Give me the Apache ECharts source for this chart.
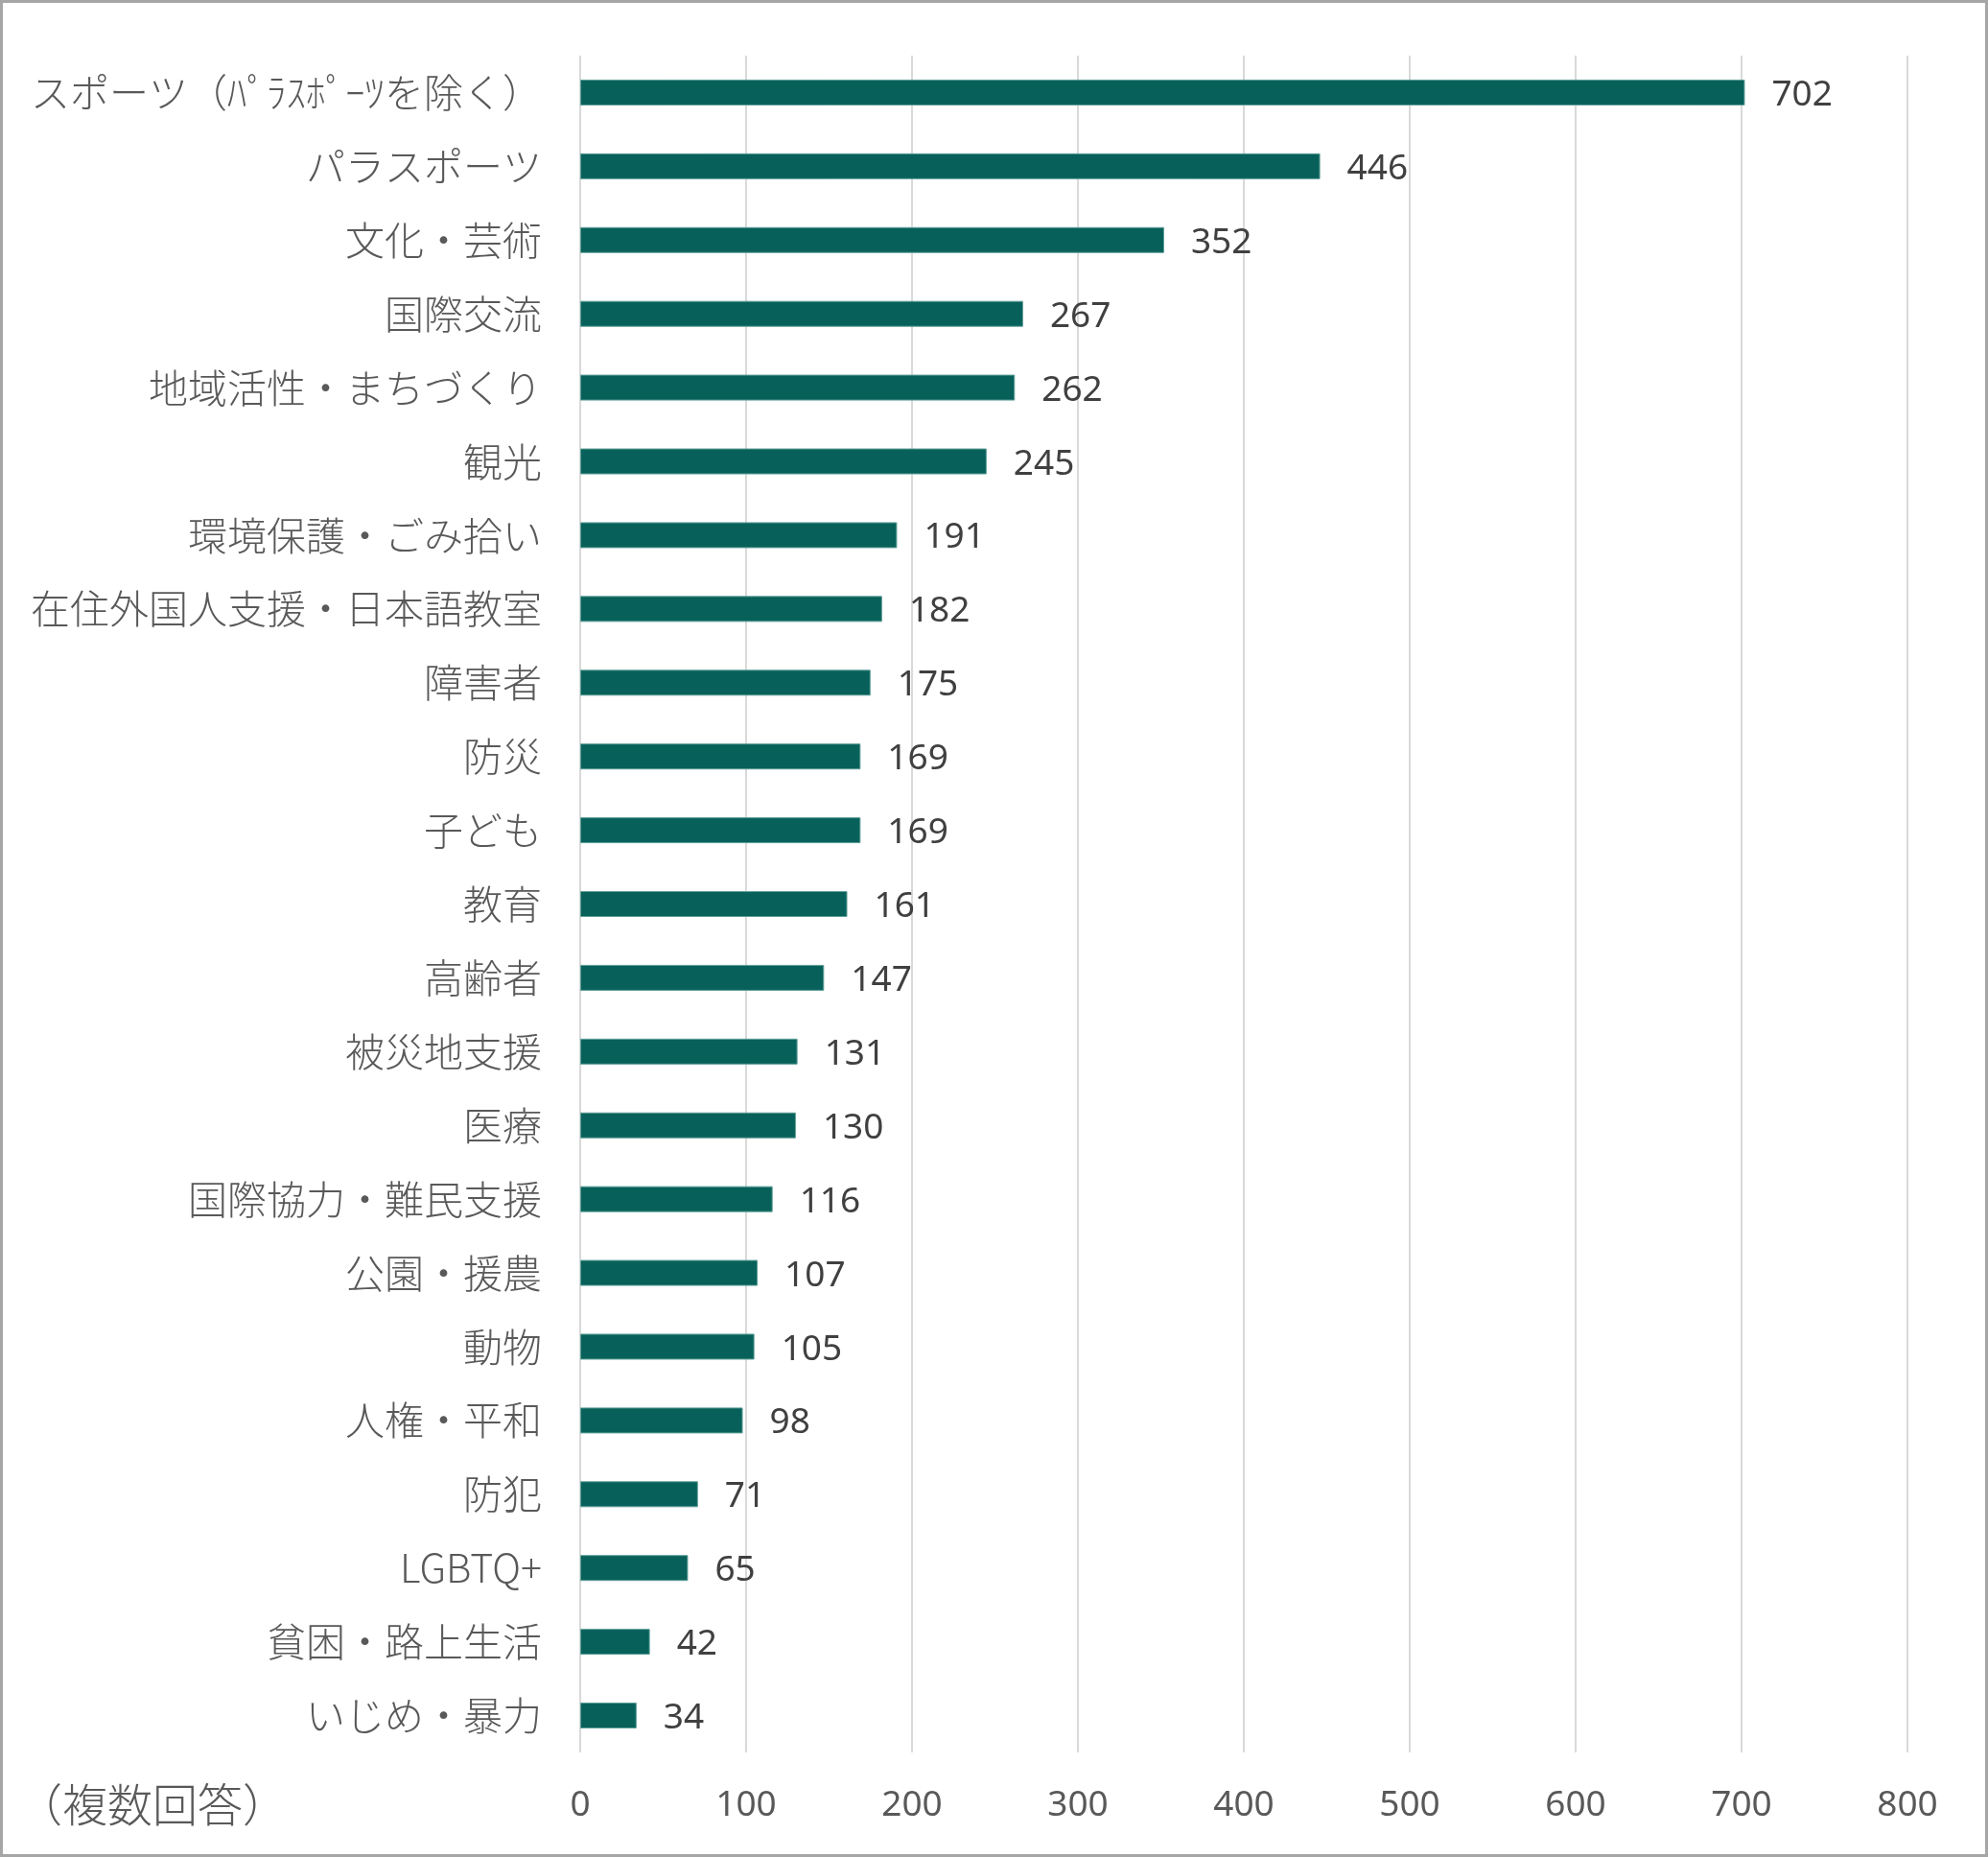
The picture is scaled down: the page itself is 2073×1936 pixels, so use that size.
<!DOCTYPE html>
<html><head><meta charset="utf-8">
<script src="https://cdn.jsdelivr.net/npm/echarts@6/dist/echarts.min.js"></script>
<style>
html,body{margin:0;padding:0;background:#fff;}
#frame{width:2073px;height:1936px;box-sizing:border-box;border:3px solid #a6a6a6;position:relative;}
#c{position:absolute;left:-3px;top:-3px;width:2073px;height:1936px;}
</style></head>
<body><div id="frame"><div id="c"></div></div>
<script>
const categories = ["スポーツ（ﾊﾟﾗｽﾎﾟｰﾂを除く）","パラスポーツ","文化・芸術","国際交流","地域活性・まちづくり","観光","環境保護・ごみ拾い","在住外国人支援・日本語教室","障害者","防災","子ども","教育","高齢者","被災地支援","医療","国際協力・難民支援","公園・援農","動物","人権・平和","防犯","LGBTQ+","貧困・路上生活","いじめ・暴力"];
const values = [702,446,352,267,262,245,191,182,175,169,169,161,147,131,130,116,107,105,98,71,65,42,34];
const xTicks = [0,100,200,300,400,500,600,700,800];
const note = "（複数回答）";

const chart = echarts.init(document.getElementById('c'), null, {renderer:'canvas'});
chart.setOption({
  animation:false,
  grid:{left:605, right:84, top:58, bottom:109, containLabel:false},
  xAxis:{type:'value', min:xTicks[0], max:xTicks[xTicks.length-1], interval:100,
    axisLine:{show:false}, axisTick:{show:false},
    splitLine:{show:true, lineStyle:{color:'#d9d9d9', width:2}},
    axisLabel:{color:'#595959', fontSize:37, fontFamily:'"Noto Sans","Noto Sans CJK JP",sans-serif', margin:37}},
  yAxis:{type:'category', data:categories, inverse:true,
    axisLine:{show:false}, axisTick:{show:false},
    axisLabel:{color:'#595959', fontSize:41, fontWeight:300, fontFamily:'"Noto Sans CJK JP",sans-serif', margin:40}},
  series:[{type:'bar', data:values, barWidth:27,
    itemStyle:{color:'#07615a', borderColor:'#5f9f98', borderWidth:1},
    label:{show:true, position:'right', distance:28, offset:[0,3], color:'#404040', fontSize:37, fontFamily:'"Noto Sans","Noto Sans CJK JP",sans-serif'}}],
  graphic:[{type:'text', left:18, top:1858, style:{text:note, fill:'#595959', fontSize:47, fontWeight:300, fontFamily:'"Noto Sans CJK JP",sans-serif'}}]
});
</script></body></html>
